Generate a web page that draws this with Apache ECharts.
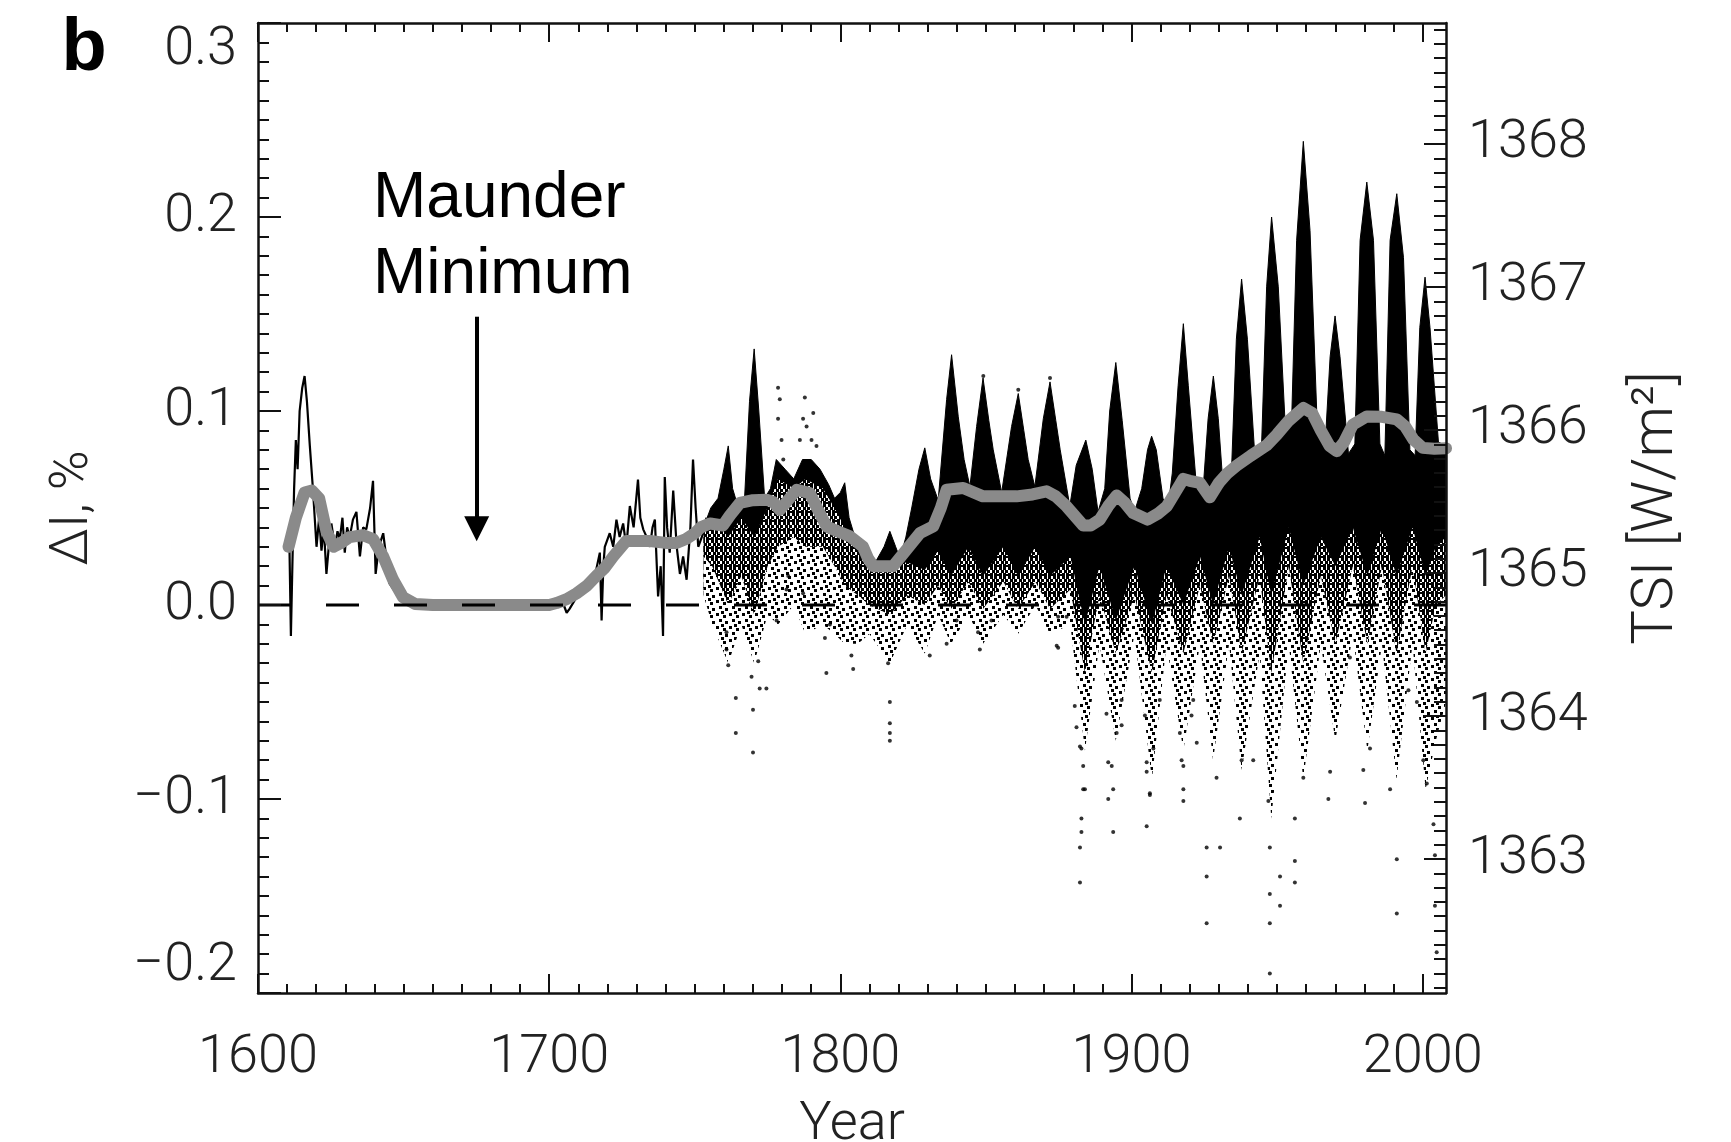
<!DOCTYPE html>
<html><head><meta charset="utf-8">
<script src="https://cdn.jsdelivr.net/npm/echarts@6/dist/echarts.min.js"></script>
<style>html,body{margin:0;padding:0;background:#fff}#c{width:1731px;height:1142px}</style>
</head><body><div id="c"></div>
<script>
// ---------- axis ticks ----------
const xMajorTicks = [1600, 1700, 1800, 1900, 2000];
const tsiMajorTicks = [1363, 1364, 1365, 1366, 1367, 1368];
const tsiMin = 1362.063, tsiMax = 1368.846;

// ---------- smoothed (grey) curve ----------
const greyCurve = [
 [1610.5,0.030],[1613,0.045],[1616,0.058],[1618.5,0.059],[1621,0.055],[1623.5,0.038],[1626,0.030],
 [1628.5,0.032],[1631.5,0.035],[1636,0.036],[1639.5,0.034],[1643,0.025],[1646.4,0.013],[1649.8,0.004],
 [1654,0.0005],[1660,0],[1680,0],[1700,0],[1702.5,0.001],[1706,0.003],[1709.4,0.006],[1713,0.010],
 [1716.2,0.015],[1719,0.019],[1722,0.025],[1726.5,0.033],[1730,0.033],[1734.6,0.033],[1740,0.032],
 [1743.7,0.032],[1747,0.034],[1750,0.037],[1752,0.040],[1755.2,0.042],[1759.7,0.041],[1762,0.046],
 [1765.5,0.0526],[1770,0.054],[1774.6,0.0543],[1777,0.053],[1779.2,0.049],[1782,0.054],[1785,0.0594],
 [1789.5,0.0577],[1792,0.050],[1795.3,0.0405],[1799,0.038],[1803.3,0.0354],[1807.8,0.030],[1809.5,0.024],
 [1811.3,0.020],[1818.1,0.020],[1822.7,0.0285],[1827.3,0.037],[1831.9,0.0405],[1834.5,0.050],[1836.5,0.0594],
 [1842.2,0.0603],[1849,0.056],[1855,0.056],[1860.5,0.056],[1866,0.057],[1870.8,0.0586],[1874,0.056],
 [1877.7,0.0508],[1883.4,0.041],[1886,0.041],[1889.1,0.044],[1892,0.051],[1894.9,0.0565],[1897.5,0.053],
 [1900.6,0.0474],[1905.5,0.044],[1909,0.047],[1912.1,0.0508],[1915,0.058],[1917.8,0.065],[1920,0.064],
 [1923.5,0.0629],[1926.9,0.0555],[1930,0.063],[1933,0.068],[1936.1,0.0718],[1941,0.077],[1946.4,0.0823],
 [1950,0.088],[1954,0.095],[1959,0.1016],[1962,0.099],[1965,0.090],[1968,0.082],[1970.5,0.0793],
 [1973,0.084],[1976,0.093],[1980.8,0.0972],[1986,0.097],[1991.1,0.0957],[1994,0.092],[1996.8,0.0853],
 [2000,0.081],[2004,0.0805],[2008,0.0808]
];

// ---------- early reconstruction (black line, 1610-1754) ----------
const earlyLine = [
 [1610.8,0.03],[1611.3,-0.016],[1611.8,0.02],[1612.4,0.06],[1613,0.085],[1613.6,0.07],[1614.3,0.1],
 [1615.2,0.112],[1616,0.118],[1616.8,0.105],[1617.8,0.082],[1618.9,0.059],[1620.1,0.03],[1621,0.045],
 [1621.8,0.028],[1622.6,0.04],[1623.5,0.016],[1624.3,0.03],[1625.2,0.042],[1626.4,0.03],[1627.3,0.038],
 [1628.1,0.034],[1629,0.045],[1629.8,0.027],[1630.6,0.04],[1631.5,0.035],[1632.6,0.044],[1633.8,0.048],
 [1635,0.025],[1636.1,0.04],[1637.2,0.039],[1638.5,0.05],[1639.5,0.064],[1640.4,0.016],[1641.5,0.03],
 [1643,0.037],[1644,0.025],[1645.2,0.011],[1647.5,0.006],[1651,0.001],[1655,0],[1705,0],[1706,-0.004],
 [1707,-0.002],[1709,0.003],[1711.7,0.006],[1713.5,0.012],[1715,0.01],[1717.4,0.027],[1718,-0.008],
 [1718.6,0.02],[1719.1,0.03],[1720.8,0.037],[1722,0.03],[1723.1,0.044],[1724.2,0.035],[1725.4,0.042],
 [1726.5,0.03],[1727.7,0.051],[1729,0.04],[1730.5,0.0646],[1731.3,0.045],[1732.3,0.039],[1733.5,0.035],
 [1734.6,0.03],[1735.5,0.04],[1736.3,0.044],[1737.4,0.0044],[1738.3,0.02],[1739.1,-0.016],[1739.7,0.066],
 [1740.5,0.04],[1741.4,0.027],[1742.6,0.059],[1743.8,0.03],[1744.9,0.016],[1746,0.025],[1747.2,0.013],
 [1748.5,0.04],[1749.4,0.075],[1750.3,0.05],[1751.2,0.03],[1752.9,0.037],[1754,0.045]
];

// ---------- daily reconstruction: upper envelope of the dense cloud ----------
const upperEnv = [
 [1753,0.04],[1755.5,0.05],[1758,0.055],[1760,0.07],[1761.5,0.082],[1763,0.06],[1765,0.05],[1767,0.052],
 [1768.8,0.105],[1770.4,0.132],[1772,0.1],[1774,0.055],[1776,0.06],[1778,0.075],[1781,0.07],[1784,0.065],
 [1787,0.075],[1790,0.075],[1793,0.07],[1796,0.062],[1798,0.055],[1800,0.058],[1801.5,0.063],[1803,0.045],
 [1805,0.035],[1808,0.024],[1812,0.022],[1815,0.03],[1817,0.038],[1819,0.03],[1820.5,0.024],[1822.5,0.035],
 [1824.5,0.05],[1827,0.07],[1829,0.081],[1831,0.065],[1833.6,0.054],[1836.5,0.106],[1838.2,0.129],
 [1840.5,0.097],[1842.5,0.075],[1844.5,0.061],[1846.8,0.092],[1849,0.117],[1851,0.095],[1852.5,0.08],
 [1855.4,0.058],[1858.8,0.092],[1861.1,0.109],[1863,0.09],[1864.5,0.075],[1866.8,0.061],[1869.7,0.096],
 [1872,0.115],[1874,0.095],[1875.5,0.08],[1878.8,0.051],[1881,0.072],[1884.3,0.085],[1886.5,0.07],
 [1888.5,0.048],[1890.8,0.06],[1892.5,0.1],[1894.6,0.125],[1896.8,0.095],[1899.5,0.055],[1901,0.048],
 [1903.5,0.06],[1905.5,0.08],[1906.9,0.087],[1908.5,0.08],[1910.8,0.055],[1912.5,0.05],[1914,0.068],
 [1916,0.113],[1917.8,0.145],[1919.5,0.113],[1922.2,0.063],[1924.6,0.06],[1926.3,0.096],[1928.1,0.118],
 [1929.8,0.096],[1931.5,0.06],[1934.4,0.072],[1936,0.137],[1937.8,0.168],[1939.8,0.137],[1942.3,0.078],
 [1944.7,0.084],[1946.4,0.164],[1948.1,0.2],[1950.4,0.164],[1952.7,0.095],[1955,0.096],[1956.7,0.188],
 [1959,0.239],[1961.3,0.193],[1963.6,0.1],[1966.4,0.08],[1968.2,0.128],[1969.9,0.149],[1971.6,0.128],
 [1974.5,0.078],[1976.7,0.083],[1978.5,0.188],[1980.8,0.218],[1983.1,0.188],[1985.3,0.083],[1987,0.077],
 [1988.8,0.188],[1991.1,0.212],[1993.4,0.179],[1995.6,0.08],[1997.4,0.077],[1999,0.143],[2000.8,0.169],
 [2002.5,0.143],[2005.4,0.084],[2008,0.082]
];

// ---------- lower boundaries of the cloud (solid / dense dots / sparse dots) ----------
const lowerYears = [1753,1756,1761.5,1766,1770.4,1775,1778.6,1784,1788,1794,1798,1801.5,1806,1810,1817,1823,
 1829,1833.6,1838,1844,1849,1856,1861,1867,1872,1879,1884,1889,1894.6,1901,1907,1912,1917.8,1923.5,1928,
 1933.5,1937.8,1944,1948,1954,1959,1965,1970,1976,1981,1986,1991,1996.5,2001,2004.5,2008];
const solidLower = [0.038,0.045,0.035,0.045,0.035,0.05,0.065,0.06,0.065,0.06,0.05,0.04,0.028,0.018,0.02,0.022,
 0.018,0.028,0.015,0.03,0.015,0.03,0.015,0.03,0.015,0.025,-0.01,0.02,-0.008,0.02,-0.01,0.02,0.0,0.025,0.0,
 0.03,0.005,0.035,0.005,0.04,0.01,0.035,0.02,0.04,0.015,0.04,0.015,0.04,0.015,0.03,0.035];
const denseLower = [0.025,0.02,0.0,0.015,-0.005,0.02,0.03,0.035,0.03,0.03,0.02,0.01,0.005,0.0,-0.005,0.005,
 0.0,0.01,-0.002,0.012,-0.002,0.012,-0.002,0.012,-0.002,0.008,-0.035,0.005,-0.025,0.005,-0.035,0.005,-0.025,0.01,
 -0.02,0.015,-0.025,0.015,-0.035,0.02,-0.03,0.015,-0.02,0.02,-0.02,0.02,-0.025,0.02,-0.025,0.0,0.005];
const sparseLower = [0.005,-0.01,-0.03,-0.01,-0.03,-0.005,-0.01,0.0,-0.015,-0.01,-0.015,-0.02,-0.02,-0.015,
 -0.03,-0.01,-0.025,-0.005,-0.02,-0.005,-0.02,-0.005,-0.015,0.0,-0.015,-0.01,-0.075,-0.02,-0.07,-0.015,
 -0.09,-0.02,-0.075,-0.02,-0.08,-0.02,-0.085,-0.025,-0.11,-0.02,-0.09,-0.02,-0.07,-0.015,-0.075,-0.02,
 -0.09,-0.02,-0.095,-0.07,-0.05];

// ---------- isolated daily points ----------
const outliers = [
 [1760.9,-0.014],[1760.9,-0.023],[1761.5,-0.031],[1764.1,-0.048],[1764.1,-0.066],[1770.0,-0.076],[1770,-0.054],
 [1769.5,-0.037],[1771.8,-0.029],[1774.6,-0.043],[1772.3,-0.043],[1778.1,-0.008],[1781.5,0.008],[1782.1,0.015],
 [1787.2,0.006],[1795.2,-0.035],[1794.7,-0.017],[1796.4,-0.010],[1804.4,-0.033],[1803.8,-0.026],[1817,-0.05],
 [1817,-0.061],[1817,-0.066],[1817,-0.070],[1816.4,-0.030],[1830.7,-0.026],[1836.5,-0.020],[1839.9,-0.008],
 [1847.9,-0.023],[1847.3,-0.014],[1851.9,-0.008],[1874.3,-0.021],[1874.8,-0.006],[1877.7,-0.006],
 [1880.5,-0.052],[1881.1,-0.063],[1882.3,-0.073],[1884,-0.095],[1883.4,-0.083],[1891.4,-0.056],[1892,-0.081],
 [1893.7,-0.095],[1896.6,-0.049],[1894.9,-0.066],[1904.6,-0.057],[1905.2,-0.081],[1906.3,-0.097],[1907.5,-0.074],
 [1909.7,-0.049],[1916.6,-0.066],[1917.2,-0.080],[1917.8,-0.095],[1921.2,-0.049],[1920.6,-0.057],
 [1874.8,-0.022],[1882.8,-0.074],[1883.4,-0.095],[1882.8,-0.110],[1882.8,-0.117],[1882.3,-0.125],[1882.3,-0.143],
 [1893.2,-0.083],[1892,-0.1],[1893.7,-0.117],[1896.6,-0.062],[1905.2,-0.086],[1905.2,-0.114],[1906.3,-0.098],
 [1917.8,-0.083],[1917.8,-0.101],[1922.4,-0.071],[1925.8,-0.125],[1925.8,-0.140],[1925.8,-0.164],[1929.2,-0.089],
 [1930.4,-0.125],[1937.2,-0.110],[1937.8,-0.080],[1941.8,-0.080],[1947,-0.101],[1947.5,-0.125],[1947.5,-0.149],
 [1947.5,-0.164],[1947.5,-0.190],[1951,-0.140],[1951,-0.155],[1956.1,-0.110],[1956.1,-0.132],[1956.1,-0.143],
 [1959,-0.089],[1967.6,-0.100],[1968.2,-0.086],[1975,-0.027],[1979.6,-0.085],[1980.2,-0.102],[1981.9,-0.074],
 [1988.8,-0.095],[1991.1,-0.131],[1991.1,-0.159],[1995.1,-0.044],[1998,-0.05],[2000.2,-0.080],[2001.4,-0.092],
 [2003.7,-0.113],[2004.2,-0.155],[2004.8,-0.179],[2004.2,-0.129],
 [1778.6,0.112],[1779.2,0.106],[1778.6,0.096],[1779.8,0.085],[1780.4,0.075],[1787.8,0.107],[1790.7,0.099],
 [1788.4,0.092],[1790.1,0.085],[1791.8,0.082],[1786.1,0.085],[1787.2,0.096],[1849.1,0.118],[1861.1,0.111],
 [1872,0.117]
];

// ---------- arrow annotation ----------
const arrowYear = 1675.1, arrowFrom = 0.1486, arrowTo = 0.0393;

// ---------- styling helpers ----------
function dotTile(size, dots, d) {
  const c = document.createElement('canvas'); c.width = c.height = size;
  const g = c.getContext('2d'); g.fillStyle = '#fff'; g.fillRect(0, 0, size, size);
  g.fillStyle = '#000'; dots.forEach(p => g.fillRect(p[0], p[1], d, d)); return c;
}
const densePattern = { image: dotTile(9, [[0,0],[4,0],[6,3],[2,3],[0,6],[4,6],[7,7]], 3), repeat: 'repeat' };
const lightPattern = { image: dotTile(13, [[1,2],[8,4],[4,8],[10,10],[6,0]], 3), repeat: 'repeat' };

const xMinor = []; for (let v = 1610; v < 2008; v += 10) if (v % 100) xMinor.push(v);
const tsiMinor = []; for (let k = 13621; k <= 13688; k++) if (k % 10) tsiMinor.push(k / 10);

const FONT = 'Roboto';
const labelStyle = { fontFamily: FONT, fontWeight: 300, fontSize: 54, color: '#222' };
const nameStyle = { fontFamily: FONT, fontWeight: 300, fontSize: 54, color: '#222' };
const axLine = { show: true, onZero: false, lineStyle: { color: '#111', width: 2.5 } };

const xBase = { type: 'value', min: 1600, max: 2008, gridIndex: 0, z: 10, splitLine: { show: false } };
const xAxes = [
  Object.assign({}, xBase, { position: 'bottom', axisLine: axLine,
    axisTick: { show: true, inside: true, length: 19, customValues: xMajorTicks, lineStyle: { color: '#111', width: 2 } },
    axisLabel: Object.assign({ show: true, margin: 38, customValues: xMajorTicks, formatter: v => String(v) }, labelStyle),
    name: 'Year', nameLocation: 'middle', nameGap: 105, nameTextStyle: nameStyle }),
  Object.assign({}, xBase, { position: 'bottom', axisLine: { show: false, onZero: false },
    axisTick: { show: true, inside: true, length: 9, customValues: xMinor, lineStyle: { color: '#111', width: 2 } },
    axisLabel: { show: false } }),
  Object.assign({}, xBase, { position: 'top', axisLine: axLine,
    axisTick: { show: true, inside: true, length: 19, customValues: xMajorTicks, lineStyle: { color: '#111', width: 2 } },
    axisLabel: { show: false } }),
  Object.assign({}, xBase, { position: 'top', axisLine: { show: false, onZero: false },
    axisTick: { show: true, inside: true, length: 9, customValues: xMinor, lineStyle: { color: '#111', width: 2 } },
    axisLabel: { show: false } })
];
const yAxes = [
  { type: 'value', min: -0.2, max: 0.3, interval: 0.1, position: 'left', z: 10, axisLine: axLine,
    splitLine: { show: false },
    axisTick: { show: true, inside: true, length: 23, lineStyle: { color: '#111', width: 2 } },
    minorTick: { show: true, splitNumber: 10, length: 11, lineStyle: { color: '#111', width: 2 } },
    axisLabel: Object.assign({ margin: 21, verticalAlignMinLabel: 'bottom', verticalAlignMaxLabel: 'top',
      formatter: v => (v < -1e-9 ? '\u2212' : '') + Math.abs(v).toFixed(1) }, labelStyle),
    name: '\u0394I, %', nameLocation: 'middle', nameRotate: 90, nameGap: 158, nameTextStyle: nameStyle },
  { type: 'value', min: tsiMin, max: tsiMax, position: 'right', z: 10, axisLine: axLine,
    splitLine: { show: false },
    axisTick: { show: true, inside: true, length: 22, customValues: tsiMajorTicks, lineStyle: { color: '#111', width: 2 } },
    axisLabel: Object.assign({ margin: 22, customValues: tsiMajorTicks, formatter: v => String(Math.round(v)) }, labelStyle),
    name: 'TSI [W/m\u00B2]', nameLocation: 'middle', nameRotate: 90, nameGap: 182,
    nameTextStyle: Object.assign({}, nameStyle, { fontSize: 58 }) },
  { type: 'value', min: tsiMin, max: tsiMax, position: 'right', z: 10, axisLine: { show: false, onZero: false },
    splitLine: { show: false },
    axisTick: { show: true, inside: true, length: 12, customValues: tsiMinor, lineStyle: { color: '#111', width: 2 } },
    axisLabel: { show: false } }
];

function areaSeries(name, data, fill, z) {
  return { name, type: 'line', data, z, showSymbol: false, symbol: 'none', silent: true, clip: true,
    lineStyle: { width: 0 }, areaStyle: { origin: 'start', color: fill, opacity: 1 } };
}
const zip = vals => lowerYears.map((y, i) => [y, vals[i]]);

const option = {
  animation: false,
  backgroundColor: '#fff',
  grid: { left: 258, right: 285, top: 23, bottom: 149, containLabel: false, outerBoundsMode: 'none' },
  xAxis: xAxes,
  yAxis: yAxes,
  graphic: [
    { type: 'text', x: 84, y: 50, style: { text: 'b', font: 'bold 74px "Liberation Sans", Arial, sans-serif', fill: '#000', textAlign: 'center', textVerticalAlign: 'middle' } },
    { type: 'text', x: 373, y: 199, style: { text: 'Maunder', font: '64px "Liberation Sans", Arial, sans-serif', fill: '#000', textVerticalAlign: 'middle' } },
    { type: 'text', x: 373, y: 275, style: { text: 'Minimum', font: '64px "Liberation Sans", Arial, sans-serif', fill: '#000', textVerticalAlign: 'middle' } }
  ],
  series: [
    Object.assign(areaSeries('cloud', upperEnv, '#000', 2), { lineStyle: { width: 1, color: '#000' } }),
    areaSeries('dense', zip(solidLower), densePattern, 3),
    areaSeries('sparse', zip(denseLower), lightPattern, 4),
    areaSeries('clear', [[1750, sparseLower[0]]].concat(zip(sparseLower)), '#fff', 5),
    { name: 'early', type: 'line', data: earlyLine, z: 6, showSymbol: false, symbol: 'none', silent: true,
      lineStyle: { color: '#000', width: 2.2 } },
    { name: 'points', type: 'scatter', data: outliers, z: 6, symbolSize: 4, silent: true,
      itemStyle: { color: '#000' } },
    { name: 'smooth', type: 'line', data: greyCurve, z: 7, showSymbol: false, symbol: 'none', silent: true,
      lineStyle: { color: '#8a8a8a', width: 12, cap: 'round', join: 'round' } },
    { name: 'zero', type: 'line', data: [[1600, 0], [2008, 0]], z: 8, showSymbol: false, symbol: 'none', silent: true,
      lineStyle: { color: '#000', width: 3, type: [33, 35] },
      markLine: { silent: true, symbol: ['none', 'triangle'], symbolSize: 25, animation: false,
        label: { show: false }, lineStyle: { color: '#000', width: 4, type: 'solid' },
        data: [[{ coord: [arrowYear, arrowFrom] }, { coord: [arrowYear, arrowTo] }]] } }
  ]
};
const chart = echarts.init(document.getElementById('c'), null, { renderer: 'canvas' });
chart.setOption(option);
</script></body></html>
